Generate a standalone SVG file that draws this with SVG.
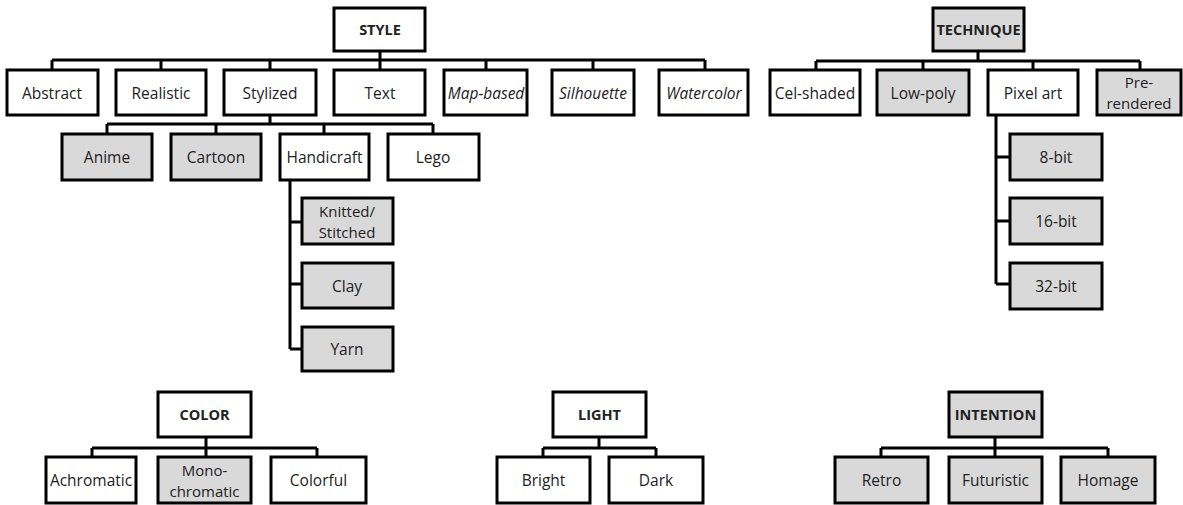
<svg xmlns="http://www.w3.org/2000/svg" width="1183" height="505" viewBox="0 0 1183 505">
<style>
rect{stroke:#000;stroke-width:3;fill:#fff}
.g rect{fill:#d9d9d9}
text{font-family:"Open Sans","Liberation Sans",sans-serif;font-size:15.5px;fill:#222;text-anchor:middle;dominant-baseline:central}
.t{font-weight:bold;font-size:14.5px}
.i{font-style:italic}
.m{font-size:15px}
#connectors path{fill:none;stroke:#000;stroke-width:3}
</style>
<rect x="0" y="0" width="1183" height="505" style="fill:#fff;stroke:none"/>
<g id="connectors">
<path d="M380 51V60M52 60H705M52 60V70M161 60V70M270 60V70M380 60V70M486 60V70M593 60V70M705 60V70"/>
<path d="M270 115V124M107 124H433M107 124V134M216 124V134M324 124V134M433 124V134"/>
<path d="M290 180V349M290 222H302M290 284H302M290 349H302"/>
<path d="M978 51V61M816 61H1140M816 61V70M923 61V70M1033 61V70M1140 61V70"/>
<path d="M996 115V284M996 157H1010M996 221H1010M996 284H1010"/>
<path d="M206 437V448M92 448H317M92 448V457M206 448V457M317 448V457"/>
<path d="M599 437V448M543 448H656M543 448V457M656 448V457"/>
<path d="M995 437V448M881 448H1108M881 448V457M995 448V457M1108 448V457"/>
</g>
<g id="style"><rect x="334" y="8" width="91" height="43"/><text class="t" x="380" y="29.5">STYLE</text></g>
<g id="abstract"><rect x="7" y="70" width="91" height="45"/><text x="52" y="92.5">Abstract</text></g>
<g id="realistic"><rect x="116" y="70" width="90" height="45"/><text x="161" y="92.5">Realistic</text></g>
<g id="stylized"><rect x="224" y="70" width="92" height="45"/><text x="270" y="92.5">Stylized</text></g>
<g id="text"><rect x="334" y="70" width="91" height="45"/><text x="380" y="92.5">Text</text></g>
<g id="map-based"><rect x="444" y="70" width="83" height="45"/><text class="i" x="486" y="92.5">Map-based</text></g>
<g id="silhouette"><rect x="552" y="70" width="82" height="45"/><text class="i" x="593" y="92.5">Silhouette</text></g>
<g id="watercolor"><rect x="659" y="70" width="89" height="45"/><text class="i" x="704" y="92.5">Watercolor</text></g>
<g id="anime" class="g"><rect x="62" y="134" width="90" height="46"/><text x="107" y="157">Anime</text></g>
<g id="cartoon" class="g"><rect x="171" y="134" width="90" height="46"/><text x="216" y="157">Cartoon</text></g>
<g id="handicraft"><rect x="280" y="134" width="89" height="46"/><text x="324.5" y="157">Handicraft</text></g>
<g id="lego"><rect x="388" y="134" width="91" height="46"/><text x="433" y="157">Lego</text></g>
<g id="knitted" class="g"><rect x="302" y="198" width="91" height="46"/><text class="m" x="347" y="210.5">Knitted/</text><text class="m" x="347" y="231.5">Stitched</text></g>
<g id="clay" class="g"><rect x="302" y="263" width="91" height="45"/><text x="347" y="285.5">Clay</text></g>
<g id="yarn" class="g"><rect x="302" y="327" width="91" height="44"/><text x="347" y="349">Yarn</text></g>
<g id="technique" class="g"><rect x="933" y="8" width="91" height="43"/><text class="t" x="978.5" y="29.5">TECHNIQUE</text></g>
<g id="cel-shaded"><rect x="770" y="70" width="90" height="45"/><text x="815" y="92.5">Cel-shaded</text></g>
<g id="low-poly" class="g"><rect x="877" y="70" width="92" height="45"/><text x="923" y="92.5">Low-poly</text></g>
<g id="pixel-art"><rect x="988" y="70" width="90" height="45"/><text x="1033" y="92.5">Pixel art</text></g>
<g id="pre-rendered" class="g"><rect x="1097" y="70" width="84" height="45"/><text class="m" x="1139" y="82">Pre-</text><text class="m" x="1139" y="103">rendered</text></g>
<g id="bit8" class="g"><rect x="1010" y="134" width="92" height="46"/><text x="1056" y="157">8-bit</text></g>
<g id="bit16" class="g"><rect x="1010" y="198" width="92" height="46"/><text x="1056" y="221">16-bit</text></g>
<g id="bit32" class="g"><rect x="1010" y="263" width="92" height="46"/><text x="1056" y="286">32-bit</text></g>
<g id="color"><rect x="158" y="392" width="93" height="45"/><text class="t" x="204.5" y="414.5">COLOR</text></g>
<g id="achromatic"><rect x="46" y="457" width="90" height="46"/><text x="91" y="480">Achromatic</text></g>
<g id="monochromatic" class="g"><rect x="158" y="457" width="93" height="46"/><text class="m" x="204.5" y="469.5">Mono-</text><text class="m" x="204.5" y="490.5">chromatic</text></g>
<g id="colorful"><rect x="271" y="457" width="95" height="46"/><text x="318.5" y="480">Colorful</text></g>
<g id="light"><rect x="553" y="392" width="93" height="45"/><text class="t" x="599.5" y="414.5">LIGHT</text></g>
<g id="bright"><rect x="497" y="457" width="93" height="46"/><text x="543.5" y="480">Bright</text></g>
<g id="dark"><rect x="609" y="457" width="94" height="46"/><text x="656" y="480">Dark</text></g>
<g id="intention" class="g"><rect x="949" y="392" width="93" height="45"/><text class="t" x="995.5" y="414.5">INTENTION</text></g>
<g id="retro" class="g"><rect x="835" y="457" width="93" height="46"/><text x="881.5" y="480">Retro</text></g>
<g id="futuristic" class="g"><rect x="949" y="457" width="93" height="46"/><text x="995.5" y="480">Futuristic</text></g>
<g id="homage" class="g"><rect x="1061" y="457" width="94" height="46"/><text x="1108" y="480">Homage</text></g>
</svg>
